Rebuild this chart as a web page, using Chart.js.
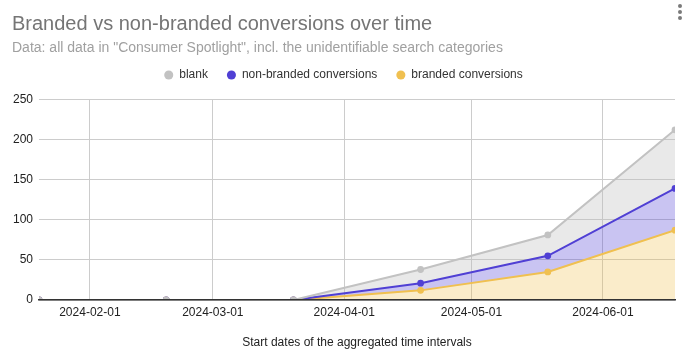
<!DOCTYPE html>
<html>
<head>
<meta charset="utf-8">
<script src="https://cdn.jsdelivr.net/npm/chart.js@4.4.1/dist/chart.umd.min.js"></script>
<style>
  html, body { margin: 0; padding: 0; background: #fff; }
  #wrap { position: relative; width: 692px; height: 357px; }
  canvas { display: block; }
  .kebab { position: absolute; left: 678px; width: 4px; height: 4px; border-radius: 2px; background: #7a7a7a; }
</style>
</head>
<body>
<div id="wrap">
  <canvas id="c" width="692" height="357"></canvas>
  <div class="kebab" style="top:4px"></div>
  <div class="kebab" style="top:10px"></div>
  <div class="kebab" style="top:16px"></div>
</div>
<script>
// ---- data ----
const dates = ['2024-01-20', '2024-02-19', '2024-03-20', '2024-04-19', '2024-05-19', '2024-06-18'];
const branded = [0, 0, 0, 12, 35, 87];
const nonBranded = [0, 0, 0, 9, 20, 52];
const blank = [0, 0, 0, 17, 26, 73];
const xTickLabels = ['2024-02-01', '2024-03-01', '2024-04-01', '2024-05-01', '2024-06-01'];
const yTicks = [0, 50, 100, 150, 200, 250];

const titleText = 'Branded vs non-branded conversions over time';
const subtitleText = 'Data: all data in "Consumer Spotlight", incl. the unidentifiable search categories';
const xTitle = 'Start dates of the aggregated time intervals';

// stacked (cumulative) tops so the top series is drawn on top
const xs = dates.map(d => Date.parse(d + 'T00:00:00Z'));
const topBranded = branded.slice();
const topNon = branded.map((v, i) => v + nonBranded[i]);
const topBlank = topNon.map((v, i) => v + blank[i]);
const pts = arr => arr.map((v, i) => ({ x: xs[i], y: v }));
const xTickValues = xTickLabels.map(d => Date.parse(d + 'T00:00:00Z'));

const FONT = "'Liberation Sans', Arial, sans-serif";
const GRAY = '#c2c2c2', BLUE = '#5040d4', YELLOW = '#f0c050';

const legendExtra = {
  id: 'legendExtra',
  beforeInit(chart) {
    const lg = chart.legend;
    if (lg) {
      const f = lg.fit;
      lg.fit = function () { f.apply(this, arguments); this.height += 8.3; };
    }
  }
};

new Chart(document.getElementById('c'), {
  type: 'line',
  data: {
    datasets: [
      { label: 'blank', data: pts(topBlank), borderColor: GRAY, backgroundColor: 'rgba(190,190,190,0.34)',
        pointBackgroundColor: GRAY, fill: '+1' },
      { label: 'non-branded conversions', data: pts(topNon), borderColor: BLUE, backgroundColor: 'rgba(80,64,212,0.31)',
        pointBackgroundColor: BLUE, fill: '+1' },
      { label: 'branded conversions', data: pts(topBranded), borderColor: YELLOW, backgroundColor: 'rgba(240,192,80,0.30)',
        pointBackgroundColor: YELLOW, fill: 'origin' }
    ]
  },
  options: {
    responsive: false,
    animation: false,
    devicePixelRatio: 1,
    layout: { padding: { left: 12, right: 17, top: 1, bottom: 0 } },
    elements: {
      line: { borderWidth: 2, tension: 0 },
      point: { radius: 3.4, borderWidth: 0, hoverRadius: 3.4 }
    },
    plugins: {
      filler: { drawTime: 'beforeDatasetsDraw' },
      tooltip: { enabled: false },
      title: {
        display: true, text: titleText, align: 'start', color: '#757575',
        font: { family: FONT, size: 20, weight: 'normal', lineHeight: '24px' },
        padding: { top: 11, bottom: 0 }
      },
      subtitle: {
        display: true, text: subtitleText, align: 'start', color: '#a0a0a0',
        font: { family: FONT, size: 14, weight: 'normal', lineHeight: '4px' },
        padding: { top: 10, bottom: 0 }
      },
      legend: {
        display: true, position: 'top', align: 'center',
        labels: {
          usePointStyle: true, pointStyle: 'circle', boxWidth: 9, boxHeight: 6.4, padding: 19,
          color: '#333', font: { family: FONT, size: 12 },
          generateLabels(chart) {
            return chart.data.datasets.map((ds, i) => ({
              text: ds.label, fillStyle: ds.borderColor, strokeStyle: ds.borderColor,
              lineWidth: 0, pointStyle: 'circle', hidden: false, datasetIndex: i, fontColor: '#333'
            }));
          }
        }
      }
    },
    scales: {
      x: {
        type: 'linear',
        min: xs[0], max: xs[xs.length - 1],
        afterBuildTicks(scale) { scale.ticks = xTickValues.map(v => ({ value: v })); },
        afterFit(scale) { scale.height = 57; },
        ticks: {
          autoSkip: false, maxRotation: 0, padding: 5, color: '#222',
          font: { family: FONT, size: 12 },
          callback(value) { const i = xTickValues.indexOf(value); return i >= 0 ? xTickLabels[i] : ''; }
        },
        grid: { color: '#cccccc', drawTicks: false, lineWidth: 1 },
        border: { display: true, color: '#333333', width: 1.5, z: 1 },
        title: {
          display: true, text: xTitle, color: '#222',
          font: { family: FONT, size: 12 }, padding: { top: 16, bottom: 7 }
        }
      },
      y: {
        min: 0, max: 250,
        afterBuildTicks(scale) { scale.ticks = yTicks.map(v => ({ value: v })); },
        afterFit(scale) { scale.width = 27; },
        ticks: { padding: 6, color: '#222', font: { family: FONT, size: 12 } },
        grid: { color: '#cccccc', drawTicks: false, lineWidth: 1 },
        border: { display: false }
      }
    }
  },
  plugins: [legendExtra]
});
</script>
</body>
</html>
